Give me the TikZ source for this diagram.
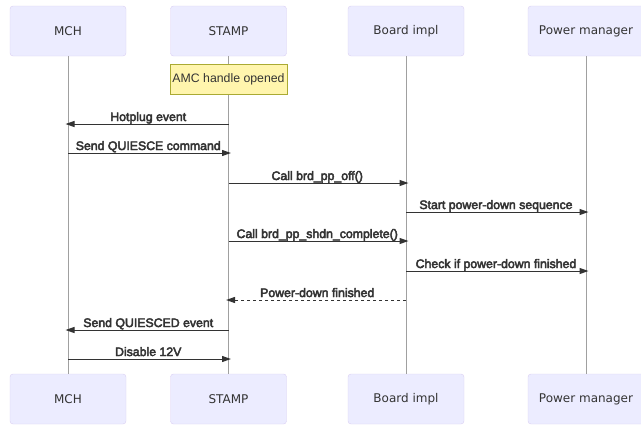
\documentclass[tikz,border=0pt]{standalone}
\usepackage{fontspec}
\setmainfont{Liberation Sans}
\newfontfamily\actorfont{DejaVu Sans}
\newfontfamily\msgfont{Liberation Sans}
\usetikzlibrary{arrows.meta, positioning}
\definecolor{actorfill}{HTML}{ECECFF}
\definecolor{actorline}{HTML}{DACEF3}
\definecolor{notefill}{HTML}{FFF5AD}
\definecolor{noteline}{HTML}{AAAA33}
\definecolor{lifegray}{HTML}{A0A0A0}
\definecolor{ink}{HTML}{333333}
% stroked text for the message labels
\newcommand\strokeon{\special{pdf:literal direct 2 Tr 0.45 w}}
\newcommand\strokeoff{\special{pdf:literal direct 0 Tr}}

\begin{document}
\begin{tikzpicture}[
  x = 1pt, y = -1pt,
  actor/.style = {rectangle, draw=actorline, fill=actorfill, rounded corners=3pt,
                  minimum width=116pt, minimum height=50pt, text=ink,
                  font=\actorfont\fontsize{12}{14}\selectfont},
  note/.style  = {rectangle, draw=noteline, fill=notefill, minimum width=117pt,
                  minimum height=30pt, inner sep=0pt, text=ink,
                  font=\fontsize{12.3}{14}\selectfont},
  life/.style  = {draw=lifegray, line width=1pt},
  msg/.style   = {-{Triangle[length=9pt,width=6pt]}, draw=ink, line width=1pt,
                  shorten >=-2.5pt},
  reply/.style = {msg, dash pattern=on 3pt off 3pt},
  lbl/.style   = {anchor=base, yshift=3pt, inner sep=0pt, text=ink,
                  font=\msgfont\fontsize{12.3}{14}\selectfont,
                  execute at begin node=\strokeon, execute at end node=\strokeoff}
]
\useasboundingbox (0,0) rectangle (641,424);

% participants, top and bottom
\node[actor] (mch)    at (68,31)    {MCH};
\node[actor] (stamp)  at (228.5,31) {STAMP};
\node[actor] (board)  at (406,31)   {Board impl};
\node[actor] (power)  at (586,31)   {Power manager};
\node[actor] (mchB)   at (68,399)    {MCH};
\node[actor] (stampB) at (228.5,399) {STAMP};
\node[actor] (boardB) at (406,399)   {Board impl};
\node[actor] (powerB) at (586,399)   {Power manager};

% lifelines
\draw[life] (mch)   -- (mchB);
\draw[life] (stamp) -- (stampB);
\draw[life] (board) -- (boardB);
\draw[life] (power) -- (powerB);

\node[note] (opened) at (228.5,79) {AMC handle opened};

% message rows
\foreach \n/\y in {1/124, 2/153, 3/183, 4/212, 5/241, 6/271, 7/300, 8/330, 9/359}
  \coordinate (r\n) at (0,\y);

\draw[msg]   (stamp |- r1) -- node[lbl]{Hotplug event} (mch |- r1);
\draw[msg]   (mch |- r2)   -- node[lbl]{Send QUIESCE command} (stamp |- r2);
\draw[msg]   (stamp |- r3) -- node[lbl]{Call brd\_pp\_off()} (board |- r3);
\draw[msg]   (board |- r4) -- node[lbl]{Start power-down sequence} (power |- r4);
\draw[msg]   (stamp |- r5) -- node[lbl]{Call brd\_pp\_shdn\_complete()} (board |- r5);
\draw[msg]   (board |- r6) -- node[lbl]{Check if power-down finished} (power |- r6);
\draw[reply] (board |- r7) -- node[lbl]{Power-down finished} (stamp |- r7);
\draw[msg]   (stamp |- r8) -- node[lbl]{Send QUIESCED event} (mch |- r8);
\draw[msg]   (mch |- r9)   -- node[lbl]{Disable 12V} (stamp |- r9);
\end{tikzpicture}
\end{document}
